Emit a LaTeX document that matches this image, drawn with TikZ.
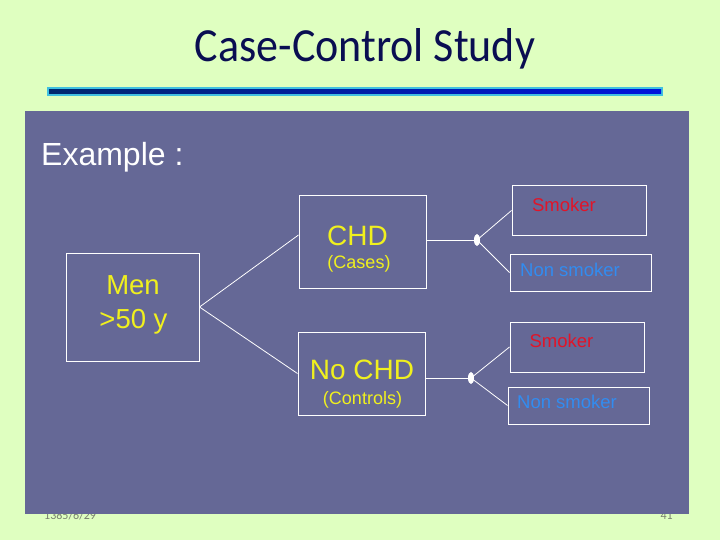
\documentclass[tikz,border=0pt]{standalone}
\usepackage{fontspec}
\setmainfont{Liberation Sans}
\newfontfamily\calibri{Carlito}
\usepackage{xcolor}
\usepackage{graphicx}
\usetikzlibrary{shapes.geometric}
\definecolor{slidebg}{RGB}{223,255,192}
\definecolor{panelblue}{RGB}{101,104,150}
\definecolor{titlenavy}{RGB}{10,14,82}
\definecolor{rulecyan}{RGB}{64,192,224}
\definecolor{rulenavy}{RGB}{0,40,110}
\definecolor{ruleblue}{RGB}{0,20,220}
\definecolor{chdyellow}{RGB}{240,240,30}
\definecolor{smkred}{RGB}{225,20,40}
\definecolor{nonblue}{RGB}{50,140,240}
\definecolor{footgray}{RGB}{120,128,110}

\begin{document}
\begin{tikzpicture}[x=1pt,y=-1pt,
  box/.style={draw=white, line width=1pt, inner sep=0pt},
  grptxt/.style={text=chdyellow, inner sep=0pt, align=center},
  smktxt/.style={text=smkred, inner sep=0pt, font=\fontsize{18.5}{20}\selectfont},
  nontxt/.style={text=nonblue, inner sep=0pt, font=\fontsize{18.5}{20}\selectfont},
  link/.style={draw=white, line width=0.8pt},
  knot/.style={ellipse, fill=white, inner sep=0pt, minimum width=6pt, minimum height=12pt},
  foot/.style={text=footgray, inner sep=0pt, font=\calibri\fontsize{12}{14}\selectfont}]
% Slide background
\useasboundingbox (0,0) rectangle (720,540);
\fill[slidebg] (0,0) rectangle (720,540);
\node[font=\calibri\fontsize{44}{50}\selectfont, text=titlenavy, anchor=base, inner sep=0pt] (title) at (365,62) {\scalebox{1}[1.08]{Case-Control Study}};
\fill[rulecyan] (47,87) rectangle (663,96);
\shade[left color=rulenavy, right color=ruleblue] (49,89.5) rectangle (661,93.5);
% Footer (partly under the panel)
\node[foot, anchor=base west] (date) at (44,519) {1385/6/29};
\node[foot, anchor=base east] (pageno) at (673,519) {41};
% Panel
\fill[panelblue] (25,111) rectangle (689,514);
\node[anchor=base west, text=white, font=\fontsize{32}{36}\selectfont, inner sep=0pt] (example) at (41,166) {Example :};

% Boxes
\node[box, minimum width=133pt, minimum height=108pt] (men) at (132.5,307) {};
\node[box, minimum width=127pt, minimum height=92pt] (chd) at (362.5,242) {};
\node[box, minimum width=127pt, minimum height=83pt] (nochd) at (361.5,373.5) {};
\node[box, minimum width=134pt, minimum height=49pt] (smk1) at (579,210.5) {};
\node[box, minimum width=141pt, minimum height=37pt] (non1) at (580.5,272.5) {};
\node[box, minimum width=134pt, minimum height=50pt] (smk2) at (577,347) {};
\node[box, minimum width=141pt, minimum height=37pt] (non2) at (578.5,405.5) {};

% Texts
\node[grptxt, font=\fontsize{27.5}{35}\selectfont] (menlbl) at (133,285) {Men};
\node[grptxt, font=\fontsize{27.5}{35}\selectfont] (agelbl) at (133.5,322) {>50 y};
\node[grptxt, font=\fontsize{28}{30}\selectfont] (chdlbl) at (357.5,236) {CHD};
\node[grptxt, font=\fontsize{18}{20}\selectfont] (caselbl) at (359,264) {(Cases)};
\node[grptxt, font=\fontsize{28}{30}\selectfont] (nochdlbl) at (362,370) {No CHD};
\node[grptxt, font=\fontsize{18}{20}\selectfont] (ctrllbl) at (362.5,399.5) {(Controls)};
\node[smktxt] (smk1lbl) at (564,205) {Smoker};
\node[nontxt] (non1lbl) at (570,269.5) {Non smoker};
\node[smktxt] (smk2lbl) at (561.5,340.5) {Smoker};
\node[nontxt] (non2lbl) at (567,401.5) {Non smoker};

% Branch points
\coordinate (k1) at (477,240);
\coordinate (k2) at (471,378);

% Connectors
\draw[link] (men.east) -- ([yshift=7pt]chd.west);
\draw[link] (men.east) -- (nochd.west);
\draw[link] (chd.east |- k1) -- (k1);
\draw[link] (nochd.east |- k2) -- (k2);
\draw[link] (k1) -- (smk1.west);
\draw[link] (k1) -- (non1.west);
\draw[link] (k2) -- (smk2.west);
\draw[link] (k2) -- (non2.west);
\node[knot] (knot1) at (k1) {};
\node[knot] (knot2) at (k2) {};
\end{tikzpicture}
\end{document}
